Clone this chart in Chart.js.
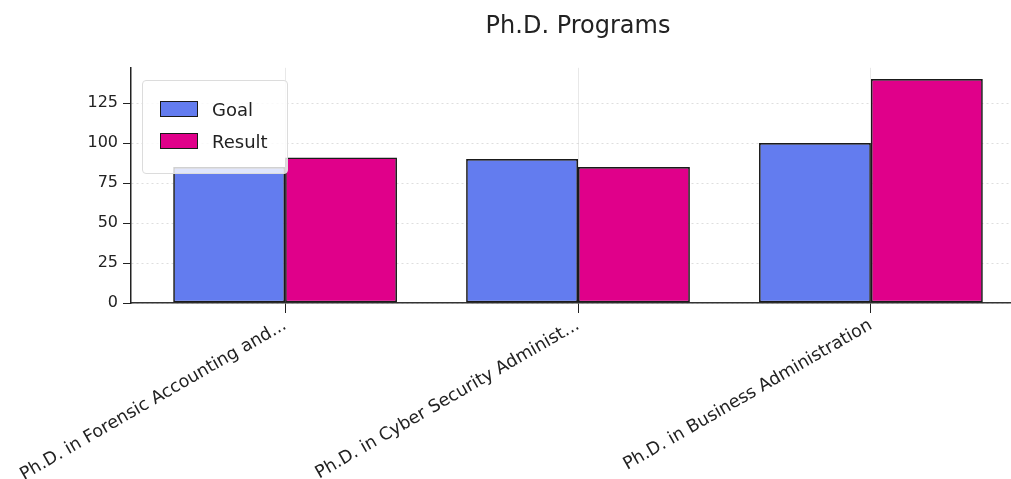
<!DOCTYPE html>
<html>
<head>
<meta charset="utf-8">
<script src="https://cdn.jsdelivr.net/npm/chart.js@4/dist/chart.umd.min.js"></script>
<style>
  html, body { margin: 0; padding: 0; background: #fff; overflow: hidden; }
  #wrap { position: relative; width: 1011px; height: 479px; overflow: hidden; }
  #legend {
    position: absolute; left: 142px; top: 80px; width: 146px; height: 94px;
    box-sizing: border-box; border: 1px solid #dcdcdc; border-radius: 4px;
    background: rgba(255,255,255,0.8); font-family: "DejaVu Sans", sans-serif;
    font-size: 18px; color: #222; padding-top: 12px;
  }
  .item { display: flex; align-items: center; height: 32px; padding-left: 17px; }
  .swatch { width: 38px; height: 16px; box-sizing: border-box; border: 1.5px solid #1a1a1a; margin-right: 14px; }
</style>
</head>
<body>
<div id="wrap">
  <canvas id="chart" width="1040" height="479"></canvas>
  <div id="legend"></div>
</div>
<script>
const categories = [
  "Ph.D. in Forensic Accounting and...",
  "Ph.D. in Cyber Security Administ...",
  "Ph.D. in Business Administration"
];
const goalValues = [85, 90, 100];
const resultValues = [91, 85, 140];
const seriesNames = ["Goal", "Result"];
const seriesColors = ["#637cef", "#e0008a"];
const yTicks = [0, 25, 50, 75, 100, 125];

const font = "DejaVu Sans";

const chart = new Chart(document.getElementById("chart"), {
  type: "bar",
  data: {
    datasets: [goalValues, resultValues].map((vals, i) => ({
      label: seriesNames[i],
      data: vals.map((v, k) => ({ x: k, y: v })),
      backgroundColor: seriesColors[i],
      borderColor: "#1a1a1a",
      borderWidth: 1.7,
      borderSkipped: false,
      categoryPercentage: 0.764,
      barPercentage: 1
    }))
  },
  options: {
    responsive: false,
    animation: false,
    layout: { padding: { right: 15 } },
    plugins: {
      legend: { display: false },
      tooltip: { enabled: false },
      title: {
        display: true,
        text: "Ph.D. Programs",
        fullSize: false,
        color: "#222",
        font: { family: font, size: 24, weight: "normal", lineHeight: 1.2 },
        padding: { top: 12, bottom: 27 }
      }
    },
    scales: {
      x: {
        type: "linear",
        offset: false,
        min: -0.526,
        max: 2.526,
        afterBuildTicks: s => { s.ticks = categories.map((c, i) => ({ value: i })); },
        afterFit: s => { s.height = 176; s.paddingLeft = 0; s.paddingRight = 0; },
        grid: { offset: false, color: "rgba(0,0,0,0.09)", tickColor: "#222", tickLength: 10, lineWidth: 1 },
        border: { color: "#333", width: 1.5 },
        ticks: {
          autoSkip: false,
          minRotation: 30,
          maxRotation: 30,
          padding: 2,
          color: "#222",
          font: { family: font, size: 17.5 },
          callback: v => categories[v]
        }
      },
      y: {
        min: 0,
        max: 147,
        afterBuildTicks: s => { s.ticks = yTicks.map(v => ({ value: v })); },
        afterFit: s => { s.width = 131; },
        grid: { color: "rgba(0,0,0,0.13)", tickColor: "#222", tickLength: 8, lineWidth: 1 },
        border: { color: "#222", width: 1.5, dash: [2, 3] },
        ticks: { padding: 5, color: "#222", font: { family: font, size: 16 } }
      }
    }
  }
});

const legendEl = document.getElementById("legend");
chart.data.datasets.forEach(ds => {
  const row = document.createElement("div");
  row.className = "item";
  row.innerHTML = `<span class="swatch" style="background:${ds.backgroundColor}"></span><span>${ds.label}</span>`;
  legendEl.appendChild(row);
});
</script>
</body>
</html>
